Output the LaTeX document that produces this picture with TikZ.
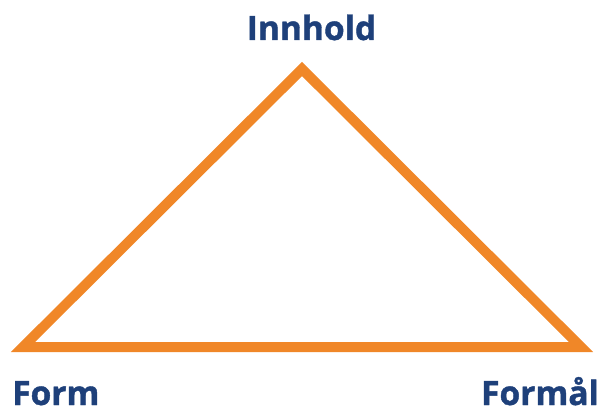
\documentclass[tikz,border=0pt]{standalone}
\usepackage{fontspec}
\setmainfont{Open Sans}[BoldFeatures={FakeBold=1.2}]
\definecolor{triorange}{RGB}{240,135,40}
\definecolor{labelblue}{RGB}{30,64,122}
\begin{document}
\begin{tikzpicture}[x=1pt,y=1pt,
  lbl/.style={inner sep=0pt, text=labelblue, font=\fontsize{33.5}{38}\selectfont\bfseries},
  edge/.style={draw=triorange, line width=10pt, line join=miter}]
\useasboundingbox (0,0) rectangle (601,412);
\coordinate (A) at (302,343);
\coordinate (L) at (23,65);
\coordinate (R) at (581,65);
\draw[edge] (A) -- (L) -- (R) -- cycle;
\node[lbl, anchor=base] (inn) at (311.5,372) {Innhold};
\node[lbl, anchor=base west] (form) at (12,7) {Form};
\node[lbl, anchor=base east] (formal) at (599,7) {Formål};
\end{tikzpicture}
\end{document}
